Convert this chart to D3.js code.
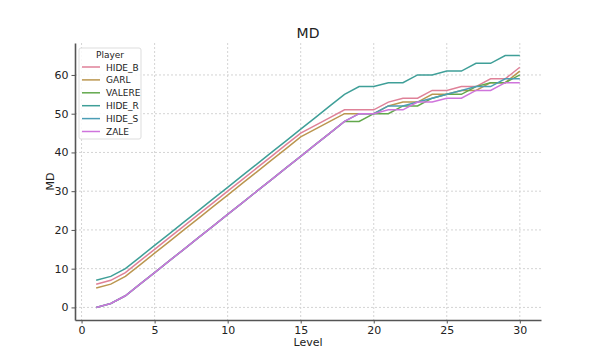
<!DOCTYPE html>
<html>
<head>
<meta charset="utf-8">
<script src="https://cdn.jsdelivr.net/npm/d3@7"></script>
<style>
  body { margin: 0; background: #fff; }
  text { font-family: "DejaVu Sans", sans-serif; fill: #222; }
</style>
</head>
<body>
<div id="chart-area"></div>
<script>
var margin = { left: 75, right: 59, top: 43, bottom: 40 },
    width = 600 - margin.left - margin.right,
    height = 360 - margin.top - margin.bottom;

// Data
var levels = d3.range(1, 31);
var players = ["HIDE_B", "GARL", "VALERE", "HIDE_R", "HIDE_S", "ZALE"];
var hideB  = [6,7,9,12,15,18,21,24,27,30,33,36,39,42,45,47,49,51,51,51,53,54,54,56,56,57,57,59,59,62];
var garl   = [5,6,8,11,14,17,20,23,26,29,32,35,38,41,44,46,48,50,50,50,52,53,53,55,55,56,56,58,58,61];
var valere = [0,1,3,6,9,12,15,18,21,24,27,30,33,36,39,42,45,48,48,50,50,52,52,54,55,55,57,58,58,60];
var hideR  = [7,8,10,13,16,19,22,25,28,31,34,37,40,43,46,49,52,55,57,57,58,58,60,60,61,61,63,63,65,65];
var hideS  = [0,1,3,6,9,12,15,18,21,24,27,30,33,36,39,42,45,48,50,50,52,52,53,54,55,56,57,57,59,59];
var zale   = [0,1,3,6,9,12,15,18,21,24,27,30,33,36,39,42,45,48,50,50,51,51,53,53,54,54,56,56,58,58];
var seriesValues = [hideB, garl, valere, hideR, hideS, zale];
var xTicks = [0, 5, 10, 15, 20, 25, 30];
var yTicks = [0, 10, 20, 30, 40, 50, 60];

var colour = d3.scaleOrdinal()
    .domain(players)
    .range(["#df8198", "#bb964f", "#62a84c", "#3f9f98", "#4b9db5", "#cf74dc"]);

var svg = d3.select("#chart-area").append("svg")
    .attr("width", 600)
    .attr("height", 360);

var g = svg.append("g")
    .attr("transform", "translate(" + margin.left + "," + margin.top + ")");

// Scales (matplotlib style 5% padding)
var x = d3.scaleLinear().domain([-0.45, 31.45]).range([0, width]);
var y = d3.scaleLinear().domain([-3.25, 68.25]).range([height, 0]);

// Grid
g.append("g").selectAll("line").data(xTicks).enter().append("line")
    .attr("x1", function(d){ return x(d); })
    .attr("x2", function(d){ return x(d); })
    .attr("y1", 0).attr("y2", height)
    .attr("stroke", "#d4d4d4").attr("stroke-dasharray", "2,2");
g.append("g").selectAll("line").data(yTicks).enter().append("line")
    .attr("y1", function(d){ return y(d); })
    .attr("y2", function(d){ return y(d); })
    .attr("x1", 0).attr("x2", width)
    .attr("stroke", "#d4d4d4").attr("stroke-dasharray", "2,2");

// Axes
var xAxis = g.append("g")
    .attr("transform", "translate(0," + height + ")")
    .call(d3.axisBottom(x).tickValues(xTicks).tickSize(3.5).tickSizeOuter(0).tickPadding(3));
var yAxis = g.append("g")
    .call(d3.axisLeft(y).tickValues(yTicks).tickSize(3.5).tickSizeOuter(0).tickPadding(3));

[xAxis, yAxis].forEach(function(a){
    a.select(".domain").attr("stroke", "#555").attr("stroke-width", 1.6);
    a.selectAll(".tick line").attr("stroke", "#555");
    a.selectAll(".tick text").attr("font-size", "11px").attr("fill", "#222")
        .style("font-family", "DejaVu Sans, sans-serif");
});

// Lines
var line = d3.line()
    .x(function(d, i){ return x(levels[i]); })
    .y(function(d){ return y(d); });

players.forEach(function(p, i){
    g.append("path")
        .attr("fill", "none")
        .attr("stroke", colour(p))
        .attr("stroke-width", 1.5)
        .attr("d", line(seriesValues[i]));
});

// Title and labels
svg.append("text")
    .attr("x", margin.left + width / 2)
    .attr("y", 38)
    .attr("text-anchor", "middle")
    .attr("font-size", "14px")
    .text("MD");

svg.append("text")
    .attr("x", margin.left + width / 2)
    .attr("y", 346)
    .attr("text-anchor", "middle")
    .attr("font-size", "11px")
    .text("Level");

svg.append("text")
    .attr("transform", "translate(54," + (margin.top + height / 2) + ") rotate(-90)")
    .attr("text-anchor", "middle")
    .attr("font-size", "11px")
    .text("MD");

// Legend
var legend = svg.append("g").attr("transform", "translate(79,48)");
legend.append("rect")
    .attr("width", 62).attr("height", 91)
    .attr("rx", 2)
    .attr("fill", "rgba(255,255,255,0.85)")
    .attr("stroke", "#ddd");
legend.append("text")
    .attr("x", 31).attr("y", 10)
    .attr("text-anchor", "middle")
    .attr("font-size", "9px")
    .text("Player");

players.forEach(function(p, i){
    var row = legend.append("g")
        .attr("transform", "translate(0," + (19 + i * 12.9) + ")");
    row.append("line")
        .attr("x1", 3).attr("x2", 21)
        .attr("stroke", colour(p)).attr("stroke-width", 1.5);
    row.append("text")
        .attr("x", 27).attr("y", 3.5)
        .attr("font-size", "9px")
        .text(p);
});
</script>
</body>
</html>
